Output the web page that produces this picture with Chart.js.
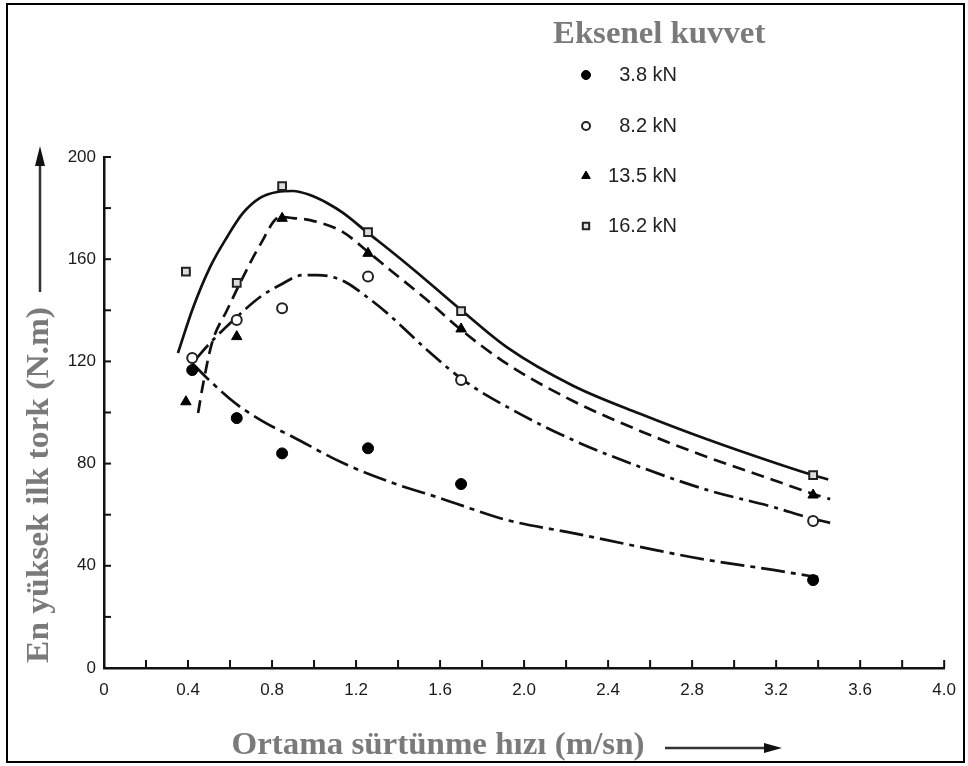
<!DOCTYPE html>
<html>
<head>
<meta charset="utf-8">
<script src="https://cdn.jsdelivr.net/npm/chart.js@4.4.1/dist/chart.umd.min.js"></script>
<style>
  html, body { margin: 0; padding: 0; background: #fff; }
  #wrap { width: 968px; height: 766px; position: relative; }
</style>
</head>
<body>
<div id="wrap"><canvas id="c" width="968" height="766"></canvas></div>
<script>
// ---- Data ----
const xTickLabels = ['0', '0.4', '0.8', '1.2', '1.6', '2.0', '2.4', '2.8', '3.2', '3.6', '4.0'];
const yTickLabels = ['0', '40', '80', '120', '160', '200'];
const seriesNames = ['3.8 kN', '8.2 kN', '13.5 kN', '16.2 kN'];
const legendTitle = 'Eksenel kuvvet';
const xTitle = 'Ortama sürtünme hızı (m/sn)';
const yTitle = 'En yüksek ilk tork (N.m)';

// measured points
const x38  = [0.42, 0.632, 0.848, 1.257, 1.70, 3.376];
const y38  = [116.6, 97.8, 84.0, 86.0, 72.0, 34.4];
const x82  = [0.42, 0.632, 0.848, 1.257, 1.70, 3.376];
const y82  = [121.3, 136.2, 140.8, 153.2, 112.7, 57.5];
const x135 = [0.39, 0.632, 0.848, 1.257, 1.70, 3.376];
const y135 = [104.2, 129.7, 176.0, 162.3, 132.7, 67.7];
const x162 = [0.39, 0.632, 0.848, 1.257, 1.70, 3.376];
const y162 = [155.1, 150.7, 188.6, 170.6, 139.7, 75.5];

// hand-drawn fitted curves
const c38X  = [0.419, 0.49, 0.624, 0.752, 0.9, 1.138, 1.376, 1.6, 1.919, 2.233, 2.552, 2.871, 3.186, 3.362, 3.40];
const c38Y  = [119.4, 113.5, 103.7, 96.7, 90.4, 80.2, 72.4, 66.5, 57.9, 52.8, 47.4, 42.3, 38.4, 36.0, 35.6];
const c82X  = [0.433, 0.505, 0.633, 0.743, 0.838, 0.948, 1.014, 1.09, 1.157, 1.252, 1.348, 1.538, 1.71, 1.919, 2.233, 2.552, 2.871, 3.186, 3.362, 3.457];
const c82Y  = [120.5, 127.2, 137.4, 145.2, 149.9, 153.8, 153.8, 153.0, 150.7, 145.2, 138.9, 124.5, 112.7, 102.2, 89.2, 78.7, 69.7, 63.0, 58.7, 56.8];
const c135X = [0.448, 0.471, 0.514, 0.586, 0.648, 0.743, 0.838, 0.9, 0.981, 1.138, 1.252, 1.362, 1.538, 1.695, 1.919, 2.233, 2.552, 2.871, 3.186, 3.362, 3.457];
const c135Y = [99.8, 110.8, 127.2, 140.1, 150.7, 165.6, 176.5, 176.1, 175.3, 170.6, 163.2, 155.8, 144.0, 132.7, 119.0, 104.5, 92.8, 82.6, 73.6, 68.5, 66.1];
const c162X = [0.352, 0.424, 0.505, 0.586, 0.662, 0.743, 0.824, 0.9, 0.981, 1.062, 1.138, 1.252, 1.376, 1.538, 1.695, 1.919, 2.233, 2.552, 2.871, 3.186, 3.362, 3.448];
const c162Y = [123.3, 141.0, 156.9, 168.7, 178.1, 184.0, 186.3, 186.7, 185.1, 182.0, 178.1, 170.6, 162.5, 151.5, 140.5, 125.5, 110.5, 99.5, 89.5, 80.5, 75.8, 73.8];

const pts = (xs, ys) => xs.map((v, i) => ({ x: v, y: ys[i] }));

const markerStyles = [
  { pointStyle: 'circle',   radius: 5.5, bg: '#000', border: '#000', bw: 1 },
  { pointStyle: 'circle',   radius: 5,   bg: '#fff', border: '#222', bw: 2 },
  { pointStyle: 'triangle', radius: 6,   bg: '#000', border: '#000', bw: 1 },
  { pointStyle: 'rect',     radius: 5.5, bg: '#ddd', border: '#222', bw: 2 }
];
const pointSets = [pts(x38, y38), pts(x82, y82), pts(x135, y135), pts(x162, y162)];
const curveSets = [pts(c38X, c38Y), pts(c82X, c82Y), pts(c135X, c135Y), pts(c162X, c162Y)];
const dashes = [[24, 6, 5, 6], [20, 6, 4, 6], [13, 7], []];

const datasets = [];
pointSets.forEach((d, i) => {
  const m = markerStyles[i];
  datasets.push({
    label: seriesNames[i], data: d, showLine: false,
    pointStyle: m.pointStyle, pointRadius: m.radius,
    pointBackgroundColor: m.bg, pointBorderColor: m.border, pointBorderWidth: m.bw
  });
});
curveSets.forEach((d, i) => {
  datasets.push({
    label: seriesNames[i] + ' eğri', data: d, showLine: true, pointRadius: 0,
    borderColor: '#111', borderWidth: 2.7, borderDash: dashes[i],
    cubicInterpolationMode: 'monotone', fill: false
  });
});

const tickFont = { family: 'Liberation Sans, Arial, sans-serif', size: 17 };
const serif = '"Liberation Serif", "Times New Roman", serif';

function stretchedText(ctx, text, x, y, size, sx) {
  ctx.save();
  ctx.translate(x, y);
  ctx.scale(sx, 1);
  ctx.font = 'bold ' + size + 'px ' + serif;
  ctx.fillText(text, 0, 0);
  ctx.restore();
}

const decor = {
  id: 'decor',
  afterDraw(chart) {
    const ctx = chart.ctx;
    const xs = chart.scales.x, ys = chart.scales.y;
    const area = chart.chartArea;
    ctx.save();
    // inner tick marks
    ctx.strokeStyle = '#111';
    ctx.lineWidth = 2;
    xs.ticks.forEach(t => {
      const px = xs.getPixelForValue(t.value);
      ctx.beginPath(); ctx.moveTo(px, area.bottom); ctx.lineTo(px, area.bottom - 8); ctx.stroke();
    });
    ys.ticks.forEach(t => {
      const py = ys.getPixelForValue(t.value);
      ctx.beginPath(); ctx.moveTo(area.left, py); ctx.lineTo(area.left + 7, py); ctx.stroke();
    });

    // legend title
    ctx.fillStyle = '#7a7a7a';
    ctx.textAlign = 'left'; ctx.textBaseline = 'alphabetic';
    stretchedText(ctx, legendTitle, 553, 43, 32, 1.025);

    // legend entries
    const ly = [75, 126, 176, 226];
    ctx.font = '20px "Liberation Sans", Arial, sans-serif';
    ctx.textAlign = 'right'; ctx.textBaseline = 'middle';
    seriesNames.forEach((name, i) => {
      const m = markerStyles[i];
      ctx.fillStyle = m.bg; ctx.strokeStyle = m.border; ctx.lineWidth = m.bw;
      Chart.helpers.drawPoint(ctx, { pointStyle: m.pointStyle, radius: m.radius - 1, borderWidth: m.bw, rotation: 0 }, 586, ly[i]);
      ctx.fillStyle = '#222';
      ctx.fillText(name, 677, ly[i]);
    });

    // x axis title + arrow
    ctx.fillStyle = '#7a7a7a';
    ctx.textAlign = 'center'; ctx.textBaseline = 'middle';
    stretchedText(ctx, xTitle, 438, 746, 32, 1.03);
    ctx.strokeStyle = '#333'; ctx.lineWidth = 2.5;
    ctx.beginPath(); ctx.moveTo(665, 748); ctx.lineTo(768, 748); ctx.stroke();
    ctx.fillStyle = '#111';
    ctx.beginPath(); ctx.moveTo(782, 748); ctx.lineTo(764, 743); ctx.lineTo(764, 753); ctx.closePath(); ctx.fill();

    // y axis title + arrow
    ctx.save();
    ctx.translate(40, 485);
    ctx.rotate(-Math.PI / 2);
    ctx.fillStyle = '#7a7a7a';
    stretchedText(ctx, yTitle, 0, 0, 32, 1.045);
    ctx.restore();
    ctx.strokeStyle = '#333'; ctx.lineWidth = 2.5;
    ctx.beginPath(); ctx.moveTo(40, 292); ctx.lineTo(40, 162); ctx.stroke();
    ctx.fillStyle = '#111';
    ctx.beginPath(); ctx.moveTo(40, 146); ctx.lineTo(35, 166); ctx.lineTo(45, 166); ctx.closePath(); ctx.fill();

    // frame
    ctx.strokeStyle = '#000'; ctx.lineWidth = 2;
    ctx.strokeRect(7, 4, 957, 758);
    ctx.restore();
  }
};

new Chart(document.getElementById('c'), {
  type: 'scatter',
  data: { datasets },
  options: {
    responsive: false,
    animation: false,
    events: [],
    layout: { padding: { left: 0, top: 157, right: 23, bottom: 0 } },
    plugins: { legend: { display: false }, tooltip: { enabled: false }, title: { display: false } },
    scales: {
      x: {
        type: 'linear', min: 0, max: 4,
        grid: { display: false, drawTicks: false },
        border: { display: true, color: '#111', width: 2.5 },
        ticks: {
          stepSize: 0.2, autoSkip: false, maxRotation: 0, padding: 12,
          color: '#1a1a1a', font: tickFont,
          callback: (v, i) => (i % 2 === 0 ? xTickLabels[i / 2] : '')
        },
        afterFit: s => { s.height = 98; }
      },
      y: {
        type: 'linear', min: 0, max: 200,
        grid: { display: false, drawTicks: false },
        border: { display: true, color: '#111', width: 2.5 },
        ticks: {
          stepSize: 20, autoSkip: false, padding: 8,
          color: '#1a1a1a', font: tickFont,
          callback: (v, i) => (i % 2 === 0 ? yTickLabels[i / 2] : '')
        },
        afterFit: s => { s.width = 104; }
      }
    }
  },
  plugins: [decor]
});
</script>
</body>
</html>
